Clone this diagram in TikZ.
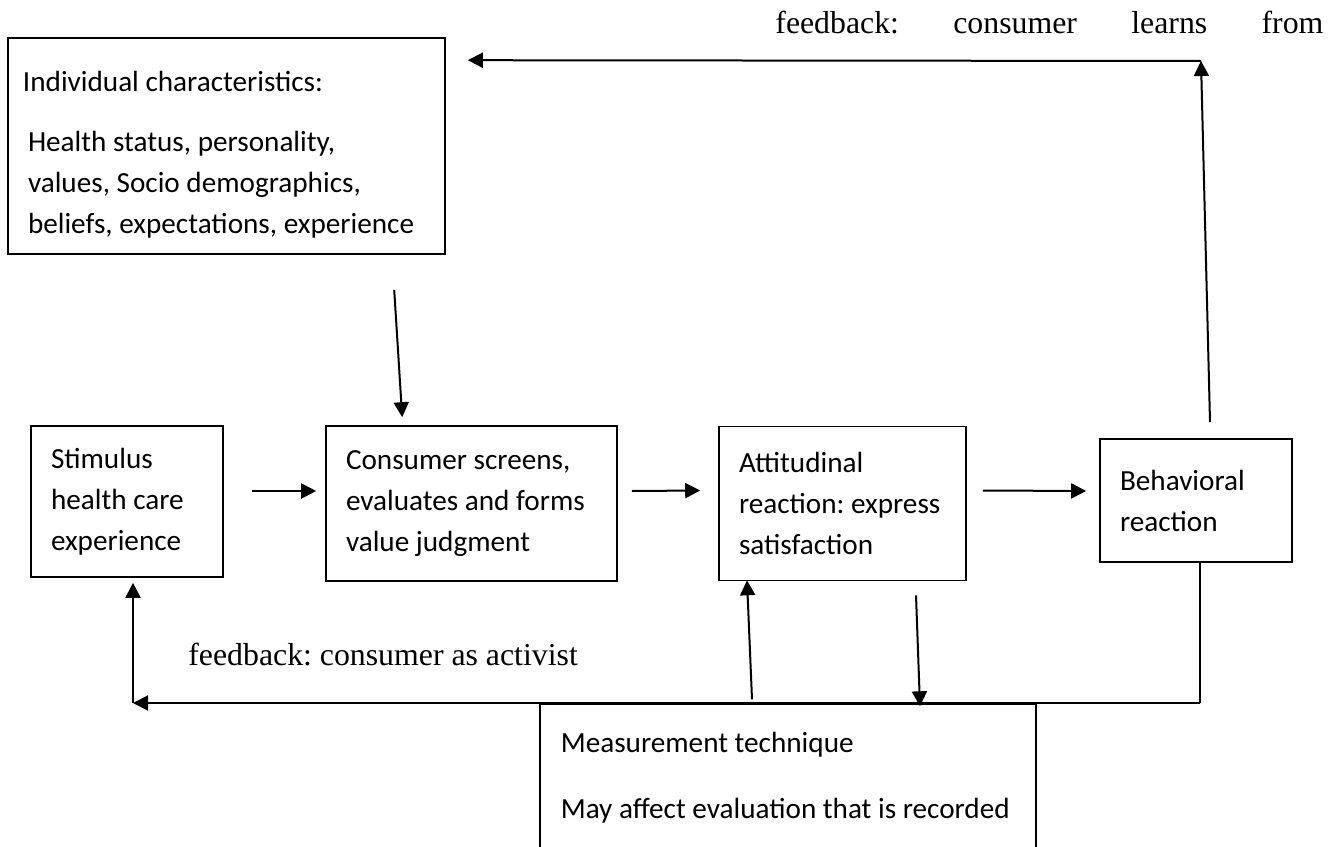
\documentclass[tikz,border=0pt]{standalone}
\usepackage{fontspec}
\setmainfont{Liberation Serif}
\newfontfamily\boxfont{Carlito}
\frenchspacing
\usepackage{tikz}
\usetikzlibrary{arrows.meta,positioning,calc}
\tikzset{
	>={Triangle[length=7.5pt,width=7.5pt]}, % filled heads
	box/.style={draw, line width=0.8pt, align=flush left, inner xsep=10pt, inner ysep=0pt,
		font=\boxfont\fontsize{14.6pt}{20.5pt}\selectfont}, % framed stage
	flow/.style={->, line width=1pt}, % connector with a head
	plain/.style={line width=0.8pt}, % connector without a head
	note/.style={inner sep=0pt, anchor=base west, font=\fontsize{15.9pt}{19pt}\selectfont}, % feedback labels
}

\begin{document}
\begin{tikzpicture}[x=0.5pt, y=-0.5pt]
	\useasboundingbox (0,0) rectangle (1338,846);
	\clip (0,0) rectangle (1338,846);

	% stages
	\node[box, text width=76pt, minimum width=96pt, minimum height=75.5pt] (stim) at (127,501.5) {Stimulus\\ health care\\ experience};
	\node[box, text width=125.5pt, minimum width=145.5pt, minimum height=77.5pt, right=50.7pt of stim, yshift=-1pt] (cons) {Consumer screens,\\ evaluates and forms\\ value judgment};
	\node[box, text width=103.5pt, minimum width=123.5pt, minimum height=77pt, right=50.2pt of cons] (att) {Attitudinal\\ reaction: express\\ satisfaction};
	\node[box, text width=76pt, minimum width=96pt, minimum height=61.5pt, right=66.2pt of att, yshift=1.5pt] (beh) {Behavioral\\ reaction};
	\node[box, text width=198.5pt, minimum width=218.5pt, minimum height=108pt] (indiv) at (226.5,146) {\rule{0pt}{19pt}\hspace*{-2.5pt}Individual characteristics:\\[9.5pt] Health status, personality,\\ values, Socio demographics,\\ beliefs, expectations, experience};
	\node[box, anchor=north west, inner xsep=10.5pt, text width=227pt, minimum width=248pt, minimum height=90pt] (meas) at (539,703) {Measurement technique\\[12.5pt] May affect evaluation that is recorded\rule[-18pt]{0pt}{18pt}};

	% labels
	\node[note] (learnlbl) at (775,33) {\makebox[274pt][l]{feedback:\hfill consumer\hfill learns\hfill from}};
	\node[note] (activistlbl) at (188,665) {feedback: consumer as activist};

	\coordinate (topturn) at (1201,61);
	\coordinate (lowright) at (1200,703);
	\coordinate (lowleft) at (133,703);

	% main chain
	\draw[flow] ([shift={(387,35)}]indiv.south west) -- ([shift={(77,-8)}]cons.north west);
	\draw[flow] ([shift={(28,-10.5)}]stim.east) -- ([shift={(-9,-12.5)}]cons.west);
	\draw[flow] ([shift={(14,-12.5)}]cons.east) -- ([shift={(-18,-13)}]att.west);
	\draw[flow] ([shift={(16,-13)}]att.east) -- ([shift={(-13,-9.5)}]beh.west);

	% feedback loops
	\draw[flow] ([shift={(14,-16)}]beh.north) -- (topturn);
	\draw[flow] (topturn) -- ([shift={(22,23)}]indiv.north east);
	\draw[plain] ([shift={(4,0)}]beh.south) -- (lowright);
	\draw[flow] (lowright) -- (lowleft);
	\draw[flow] (lowleft) -- ([shift={(6,5)}]stim.south);
	\draw[flow] ([shift={(-90.5,118)}]att.south) -- ([shift={(-95.5,-1)}]att.south);
	\draw[flow] ([shift={(73.5,14)}]att.south) -- ([shift={(77.5,125)}]att.south);
\end{tikzpicture}
\end{document}
